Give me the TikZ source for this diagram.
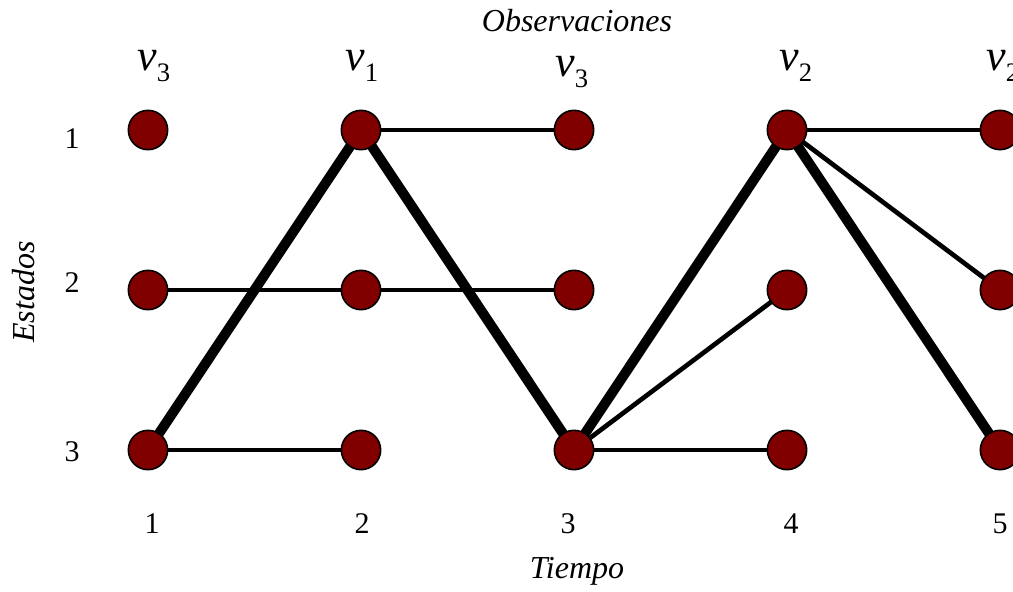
\documentclass[tikz,border=0pt]{standalone}
\usepackage{fontspec}
\setmainfont{Liberation Serif}
\usetikzlibrary{backgrounds}

\definecolor{estado}{HTML}{800000}
\newcommand{\obsv}[1]{\textit{v}\raisebox{-8.5pt}{\fontsize{20}{20}\selectfont #1}}

\begin{document}
\begin{tikzpicture}
 [x=0.75pt,y=-0.75pt,
  state node/.style={node distance=159.75pt, circle, fill=estado, draw, line width=1.2pt, minimum size=29.5pt, inner sep=0pt},
  obs node/.style={font=\fontsize{33}{33}\selectfont, inner sep=0pt, anchor=base west},
  num node/.style={font=\fontsize{22.5}{22.5}\selectfont, inner sep=0pt},
  axis node/.style={font=\fontsize{24}{24}\selectfont\itshape, inner sep=0pt, anchor=base},
  thin edge/.style={line width=3.5pt},
  thick edge/.style={line width=7.5pt}]

\useasboundingbox (0,0) rectangle (1013,592);
\clip (0,0) rectangle (1013,592);

 \node[state node] (11) at (148,130) {};
 \node[state node] (12) [below of=11, node distance=120pt] {};
 \node[state node] (13) [below of=12, node distance=120pt] {};

 \node[state node] (21) [right of=11] {};
 \node[state node] (22) [right of=12] {};
 \node[state node] (23) [right of=13] {};

 \node[state node] (31) [right of=21] {};
 \node[state node] (32) [right of=22] {};
 \node[state node] (33) [right of=23] {};

 \node[state node] (41) [right of=31] {};
 \node[state node] (42) [right of=32] {};
 \node[state node] (43) [right of=33] {};

 \node[state node] (51) [right of=41] {};
 \node[state node] (52) [right of=42] {};
 \node[state node] (53) [right of=43] {};

% observaciones
 \node[obs node] (o1) at (137,70) {\obsv{3}};
 \node[obs node] (o2) at (345,70) {\obsv{1}};
 \node[obs node] (o3) at (555,76) {\obsv{3}};
 \node[obs node] (o4) at (779,70) {\obsv{2}};
 \node[obs node] (o5) at (986,70) {\obsv{2}};
 \node[axis node] (obs) at (577,32) {Observaciones};

% estados y tiempo
 \node[num node] (e1) at (72,139) {1};
 \node[num node] (e2) at (72,283) {2};
 \node[num node] (e3) at (72,452) {3};
 \node[axis node, rotate=90, anchor=center] (est) at (24,292) {Estados};

 \node[num node] (t1) at (152,524) {1};
 \node[num node] (t2) at (362,524) {2};
 \node[num node] (t3) at (568,524) {3};
 \node[num node] (t4) at (791,524) {4};
 \node[num node] (t5) at (1000,524) {5};
 \node[axis node] (tiempo) at (577,578) {Tiempo};

\begin{scope}[on background layer]
\path
  (13.center) edge [thick edge] (21.center)
  (21.center) edge [thick edge] (33.center)
  (33.center) edge [thick edge] (41.center)
  (41.center) edge [thick edge] (53.center)

  (12.center) edge [thin edge] (22.center)
  (13.center) edge [thin edge] (23.center)
  (21.center) edge [thin edge] (31.center)
  (22.center) edge [thin edge] (32.center)
  (33.center) edge [thin edge] (42.center)
  (33.center) edge [thin edge] (43.center)
  (41.center) edge [thin edge] (51.center)
  (41.center) edge [thin edge] (52.center);
\end{scope}

\end{tikzpicture}
\end{document}
